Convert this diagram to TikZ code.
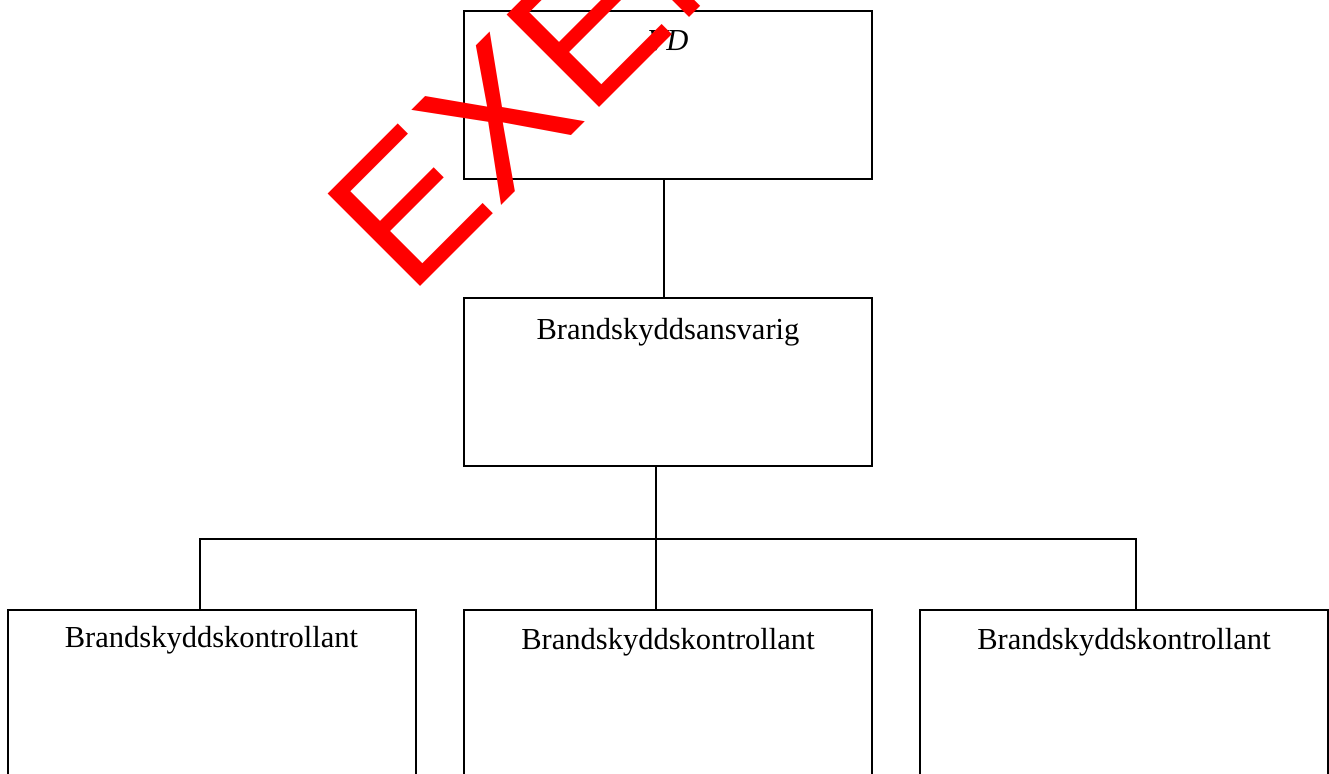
\documentclass[tikz,border=0pt]{standalone}
\usepackage{fontspec}
\setmainfont{Liberation Serif}
\newfontfamily\wmfont{Liberation Sans}
\usetikzlibrary{calc}
\begin{document}
\begin{tikzpicture}[x=0.75pt,y=-0.75pt,
  box/.style={draw=black,line width=1.5pt,fill=none,inner sep=0pt,outer sep=0pt,minimum width=306pt},
  topbox/.style={box,minimum height=126pt},
  lowbox/.style={box,minimum height=180pt},
  lab/.style={inner sep=0pt,anchor=base,font=\fontsize{22.9pt}{27pt}\selectfont},
  link/.style={draw=black,line width=1.4pt},
  stamp/.style={inner sep=0pt,anchor=base west,rotate=45,text={rgb,255:red,255;green,0;blue,0},font=\wmfont\fontsize{142.5pt}{150pt}\selectfont}]
\useasboundingbox (0,0) rectangle (1329,774);
\clip (0,0) rectangle (1329,774);
% boxes
\node[topbox] (vd) at (668,95) {};
\node[topbox] (ba) at (668,382) {};
\node[lowbox] (k1) at (211.5,730) {};
\node[lowbox] (k2) at (668,730) {};
\node[lowbox] (k3) at (1124,730) {};
% labels
\node[lab] (tvd) at (668,51) {\itshape VD};
\node[lab] (tba) at (668,339) {Brandskyddsansvarig};
\node[lab] (tk1) at (211.5,647) {Brandskyddskontrollant};
\node[lab] (tk2) at (668,649) {Brandskyddskontrollant};
\node[lab] (tk3) at (1124,649) {Brandskyddskontrollant};
% connector points
\coordinate (vdb) at ($(vd.south)+(-4,0)$);
\coordinate (bat) at ($(ba.north)+(-4,0)$);
\coordinate (bab) at ($(ba.south)+(-12,0)$);
\coordinate (k2t) at ($(k2.north)+(-12,0)$);
\coordinate (k1t) at ($(k1.north)+(-11.5,0)$);
\coordinate (k3t) at ($(k3.north)+(12,0)$);
\coordinate (bus) at (656,539);
% connectors
\draw[link] (vdb) -- (bat);
\draw[link] (bab) -- (k2t);
\draw[link] (k1t) |- (bus) -| (k3t);
% watermark
\node[stamp] (wm) at (409,298) {EXEMPEL};
\end{tikzpicture}
\end{document}
